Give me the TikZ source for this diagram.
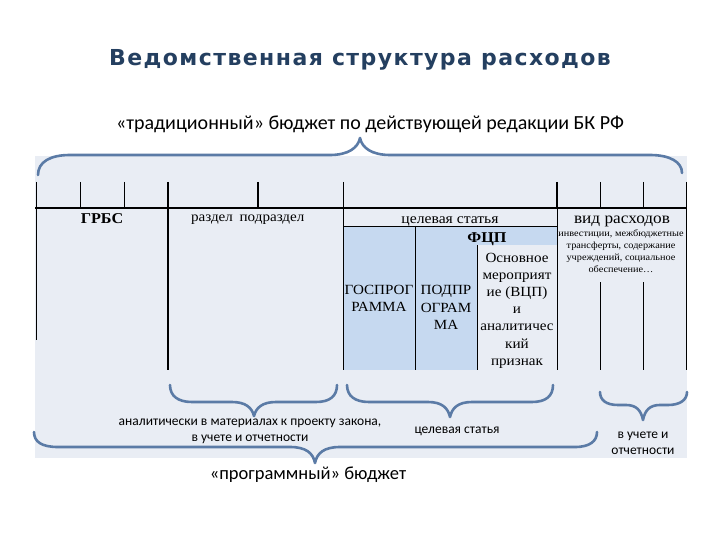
\documentclass[tikz,border=0pt]{standalone}
\usepackage{fontspec}
\setmainfont{Liberation Serif}
\newfontfamily\ser[FakeStretch=1.08]{Liberation Serif}
\newfontfamily\crl{Carlito}
\newfontfamily\ttl[LetterSpace=6.5]{DejaVu Sans}
\definecolor{panel}{HTML}{E9EDF4}
\definecolor{lblue}{HTML}{C6D9F0}
\definecolor{brc}{HTML}{5B7BA6}
\definecolor{ttlc}{HTML}{243F60}
\begin{document}
\begin{tikzpicture}[x=1pt,y=-1pt,
  brace/.style={draw=brc,line width=2.6pt,line cap=round,line join=round},
  tl/.style={line width=1pt},
  tk/.style={line width=2.2pt},
  sr/.style={inner sep=0pt,font=\ser\fontsize{14}{17.2}\selectfont,align=center},
  sn/.style={inner sep=0pt,font=\crl\fontsize{13.5}{16}\selectfont,align=center},
  big/.style={inner sep=0pt,font=\crl\fontsize{20}{22}\selectfont}
]
\useasboundingbox[fill=white] (0,0) rectangle (720,540);
\fill[panel] (35,156) rectangle (687,458);
\fill[lblue] (343,226) rectangle (415,370);
\fill[lblue] (415,226) rectangle (557,245);
\fill[lblue] (415,245) rectangle (477,370);
% table lines
\foreach \x in {36,80,124,343,600,643,686} \draw[tl] (\x,182) -- (\x,208);
\foreach \x in {168,258,557} \draw[tk] (\x,182) -- (\x,208);
\draw[tk] (35,208) -- (687,208);
\draw[tl] (36,208) -- (36,340);
\draw[tk] (168,208) -- (168,370);
\draw[tl] (343,208) -- (343,370);
\draw[tl] (557,208) -- (557,370);
\draw[tl] (686,208) -- (686,370);
\draw[tl] (415,226) -- (415,370);
\draw[tl] (477,245) -- (477,370);
\draw[tl] (600,282) -- (600,370);
\draw[tl] (643,282) -- (643,370);
\draw[line width=0.6pt] (343,226) -- (557,226);
% title and captions
\node[inner sep=0pt,font=\ttl\bfseries\fontsize{22}{26}\selectfont,text=ttlc,anchor=base] (title) at (360,66) {Ведомственная структура расходов};
\node[big,anchor=base] (trad) at (370,130) {«традиционный» бюджет по действующей редакции БК РФ};
\node[big,anchor=base,font=\crl\fontsize{18.5}{22}\selectfont] (prog) at (308,479) {«программный» бюджет};
% table texts
\node[sr,anchor=base,font=\ser\bfseries\fontsize{15}{17}\selectfont] (grbs) at (102,224) {ГРБС};
\node[sr,anchor=base] (razdel) at (212,222) {раздел};
\node[sr,anchor=base] (podr) at (272,222) {подраздел};
\node[sr,anchor=base,font=\ser\fontsize{14.5}{17}\selectfont] (cst) at (450,224) {целевая статья};
\node[sr,anchor=base,font=\ser\fontsize{16}{18}\selectfont] (vid) at (622,224) {вид расходов};
\node[sr,anchor=base,font=\ser\bfseries\fontsize{15}{17}\selectfont] (fcp) at (487,242) {ФЦП};
\node[sr,font=\ser\fontsize{9.5}{12}\selectfont] (vids) at (621,251) {инвестиции, межбюджетные\\трансферты, содержание\\учреждений, социальное\\обеспечение\dots};
\node[sr] (gos) at (379,298.5) {ГОСПРОГ\\РАММА};
\node[sr] (podp) at (446,307.5) {ПОДПР\\ОГРАМ\\МА};
\node[sr] (osn) at (517,310.5) {Основное\\мероприят\\ие (ВЦП)\\и\\аналитичес\\кий\\признак};
% bottom texts
\node[sn] (anal) at (250,431) {аналитически в материалах к проекту закона,\\в учете и отчетности};
\node[sn,anchor=base] (cst2) at (457,433) {целевая статья};
\node[sn] (uch) at (643,443) {в учете и\\отчетности};
% braces
\draw[brace] (38,175) .. controls (38,162) and (50,155) .. (70,155) -- (330,155)
  .. controls (348,155) and (358,148) .. (360,138)
  .. controls (362,148) and (372,155) .. (390,155) -- (650,155)
  .. controls (670,155) and (682,162) .. (682,173);
\draw[brace] (170,385) .. controls (170,396) and (178,402) .. (192,402) -- (232,402)
  .. controls (246,402) and (252,408) .. (254,416)
  .. controls (256,408) and (262,402) .. (276,402) -- (316,402)
  .. controls (330,402) and (337,396) .. (337,385);
\draw[brace] (347,385) .. controls (347,396) and (355,402) .. (369,402) -- (428,402)
  .. controls (442,402) and (448,408) .. (450,417)
  .. controls (452,408) and (458,402) .. (472,402) -- (532,402)
  .. controls (546,402) and (553,396) .. (553,385);
\draw[brace] (600,392) .. controls (600,400) and (606,405) .. (618,405) -- (626,405)
  .. controls (636,405) and (641,410) .. (643,420)
  .. controls (645,410) and (650,405) .. (660,405) -- (668,405)
  .. controls (680,405) and (687,400) .. (687,392);
\draw[brace] (34,432) .. controls (34,442) and (42,447) .. (58,447) -- (290,447)
  .. controls (306,447) and (313,453) .. (315,463)
  .. controls (317,453) and (324,447) .. (340,447) -- (575,447)
  .. controls (590,447) and (597,441) .. (597,432);
\end{tikzpicture}
\end{document}
